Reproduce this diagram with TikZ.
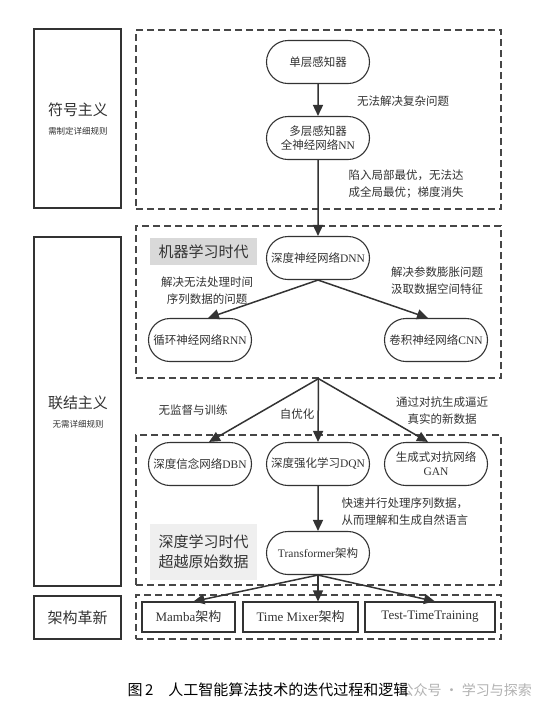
\documentclass[tikz,border=0pt]{standalone}
\usepackage{fontspec}
\setmainfont{Noto Sans CJK SC}
\newfontfamily\lat{Liberation Serif}
\usepackage{xcolor}
\usetikzlibrary{arrows.meta,positioning,shapes.misc}

\definecolor{ink}{HTML}{333333}
\definecolor{tagA}{HTML}{D9D9D9}
\definecolor{tagB}{HTML}{EFEFEF}

\begin{document}
\begin{tikzpicture}[
    x=1pt, y=-1pt,
    every node/.style={text=ink},
    era/.style={draw=ink, line width=1.6pt, minimum width=87pt},
    frame/.style={draw=ink!90, line width=1.3pt, dash pattern=on 7pt off 4pt, minimum width=365pt},
    proc/.style={rounded rectangle, draw=ink, line width=1.1pt, minimum width=107pt, minimum height=43pt,
                 align=center, inner sep=2pt, font=\fontsize{11.5}{14}\selectfont},
    arch/.style={draw=ink, line width=1.1pt, minimum height=30pt, inner sep=2pt, font=\fontsize{13}{15}\selectfont},
    tag/.style={minimum width=107pt, align=center, font=\fontsize{15}{20}\selectfont},
    lbl/.style={align=center, font=\fontsize{11.5}{17}\selectfont},
    big/.style={font=\fontsize{15}{18}\selectfont},
    tiny/.style={font=\fontsize{8.5}{10}\selectfont},
    arr/.style={draw=ink, line width=1.5pt, -{Triangle[length=11pt,width=10pt]}}
]
  \useasboundingbox[fill=white] (0,0) rectangle (549,713);

  % left column
  \node[era, minimum height=179pt] (sym) at (77.5,118.5) {};
  \node[big] (symT) at (78,110) {符号主义};
  \node[tiny, below=3pt of symT] (symS) {需制定详细规则};

  \node[era, minimum height=349pt] (con) at (77.5,411.5) {};
  \node[big] (conT) at (78,403) {联结主义};
  \node[tiny, below=3pt of conT] (conS) {无需详细规则};

  \node[era, minimum height=43pt, big] (inn) at (77.5,617.5) {架构革新};

  % dashed frames
  \node[frame, minimum height=179pt] (f1) at (318.5,119.5) {};
  \node[frame, minimum height=152pt] (f2) at (318.5,302) {};
  \node[frame, minimum height=150pt] (f3) at (318.5,510) {};
  \node[frame, minimum height=44pt] (f4) at (318.5,617) {};

  % era tags
  \node[tag, fill=tagA, minimum height=27pt] (mlTag) at (203.5,251.5) {机器学习时代};
  \node[tag, fill=tagB, minimum height=56pt] (dlTag) at (203.5,552) {深度学习时代\\超越原始数据};

  % models
  \node[proc] (slp) at (318,62) {单层感知器};
  \node[proc] (mlp) at (318,138) {多层感知器\\全神经网络{\lat NN}};
  \node[proc] (dnn) at (318,258) {深度神经网络{\lat DNN}};
  \node[proc] (rnn) at (200,340) {循环神经网络{\lat RNN}};
  \node[proc] (cnn) at (436,340) {卷积神经网络{\lat CNN}};
  \node[proc] (dbn) at (200,464) {深度信念网络{\lat DBN}};
  \node[proc] (dqn) at (318,464) {深度强化学习{\lat DQN}};
  \node[proc] (gan) at (436,464) {生成式对抗网络\\{\lat GAN}};
  \node[proc] (tfm) at (318,553) {{\lat Transformer}架构};

  \node[arch, minimum width=93pt] (mamba) at (188.5,617) {{\lat Mamba}架构};
  \node[arch, minimum width=115pt] (tmix) at (300.5,617) {{\lat Time Mixer}架构};
  \node[arch, minimum width=130pt] (ttt) at (430,617) {\lat Test-TimeTraining};

  % arrows
  \draw[arr] (slp) -- (mlp);
  \draw[arr] (mlp) -- (dnn);
  \draw[arr] (dnn.south) -- ([xshift=8pt]rnn.north);
  \draw[arr] (dnn.south) -- ([xshift=-8pt]cnn.north);
  \draw[arr] (f2.south) -- ([xshift=9pt]dbn.north);
  \draw[arr] (f2.south) -- (dqn.north);
  \draw[arr] (f2.south) -- ([xshift=-8pt]gan.north);
  \draw[arr] (dqn) -- (tfm);
  \draw[arr] (tfm.south) -- ([xshift=5pt]mamba.north);
  \draw[arr] (tfm.south) -- (tfm.south |- tmix.north);
  \draw[arr] (tfm.south) -- ([xshift=5pt]ttt.north);

  % arrow notes
  \node[lbl] (n1) at (403,101) {无法解决复杂问题};
  \node[lbl, align=left, anchor=west] (n2) at (345,184.5) {陷入局部最优，无法达\\成全局最优；梯度消失};
  \node[lbl] (n3) at (207,290.5) {解决无法处理时间\\序列数据的问题};
  \node[lbl] (n4) at (437,280.5) {解决参数膨胀问题\\汲取数据空间特征};
  \node[lbl] (n5) at (193,410) {无监督与训练};
  \node[lbl] (n6) at (297,414) {自优化};
  \node[lbl] (n7) at (442,410.5) {通过对抗生成逼近\\真实的新数据};
  \node[lbl, align=left, anchor=west] (n8) at (338,512) {快速并行处理序列数据，\\从而理解和生成自然语言};

  % caption
  \node[anchor=west, text=black!30, font=\fontsize{14}{16}\selectfont] (wm) at (396,690) {公众号 · 学习与探索};
  \node[anchor=west, font=\fontsize{15}{17}\selectfont, text=black] (cap) at (124,690) {图\,2\quad 人工智能算法技术的迭代过程和逻辑};
\end{tikzpicture}
\end{document}
